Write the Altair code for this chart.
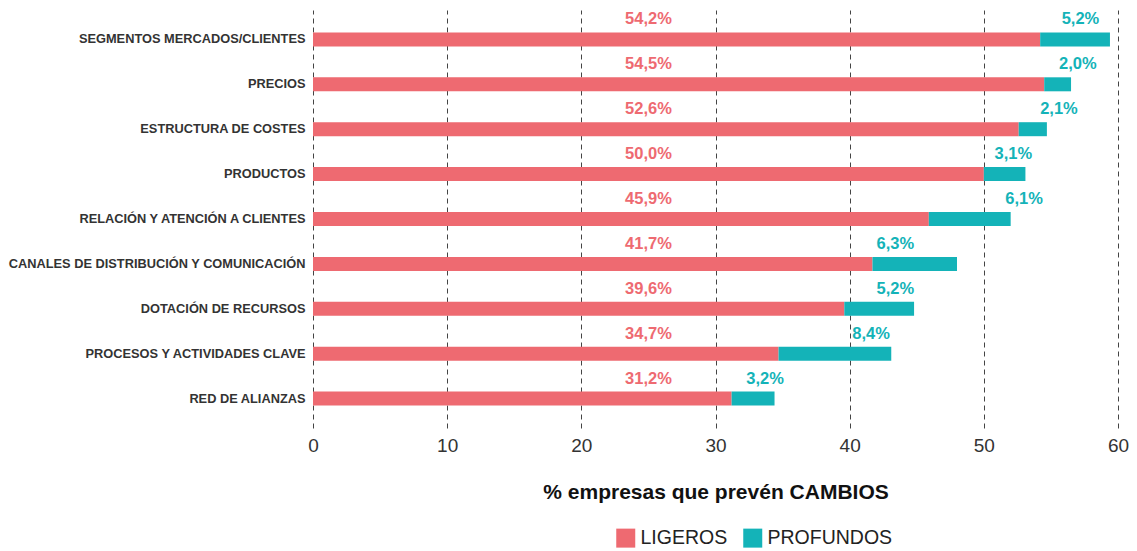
import altair as alt
import pandas as pd

categories = [
    "SEGMENTOS MERCADOS/CLIENTES",
    "PRECIOS",
    "ESTRUCTURA DE COSTES",
    "PRODUCTOS",
    "RELACIÓN Y ATENCIÓN A CLIENTES",
    "CANALES DE DISTRIBUCIÓN Y COMUNICACIÓN",
    "DOTACIÓN DE RECURSOS",
    "PROCESOS Y ACTIVIDADES CLAVE",
    "RED DE ALIANZAS",
]
ligeros = [54.2, 54.5, 52.6, 50.0, 45.9, 41.7, 39.6, 34.7, 31.2]
profundos = [5.2, 2.0, 2.1, 3.1, 6.1, 6.3, 5.2, 8.4, 3.2]
# label anchor positions (in % units)
ligeros_label_at = [25.0] * 9
profundos_label_at = [57.2, 57.0, 55.6, 52.2, 53.0, 43.4, 43.4, 41.6, 33.7]
series = ["LIGEROS", "PROFUNDOS"]
colors = ["#EE6A71", "#14B3B8"]
x_ticks = [0, 10, 20, 30, 40, 50, 60]

FONT = "Liberation Sans"


def fmt(v):
    return f"{v:.1f}".replace(".", ",") + "%"


rows = []
labels = []
for i, c in enumerate(categories):
    rows.append({"category": c, "serie": series[0], "value": ligeros[i], "ord": 0})
    rows.append({"category": c, "serie": series[1], "value": profundos[i], "ord": 1})
    labels.append({"category": c, "serie": series[0], "value": ligeros_label_at[i], "txt": fmt(ligeros[i])})
    labels.append({"category": c, "serie": series[1], "value": profundos_label_at[i], "txt": fmt(profundos[i])})
bars_df = pd.DataFrame(rows)
labels_df = pd.DataFrame(labels)

color_scale = alt.Scale(domain=series, range=colors)

y_enc = alt.Y(
    "category:N",
    sort=categories,
    scale=alt.Scale(paddingInner=0, paddingOuter=0.155),
    axis=alt.Axis(
        title=None,
        labelFont=FONT,
        labelFontWeight="bold",
        labelFontSize=12.8,
        labelColor="#333333",
        labelLimit=500,
        ticks=False,
        domain=False,
        grid=False,
        labelPadding=8,
    ),
)

bars = alt.Chart(bars_df).mark_bar(size=14).encode(
    y=y_enc,
    x=alt.X(
        "value:Q",
        stack="zero",
        scale=alt.Scale(domain=[0, 60], nice=False),
        axis=alt.Axis(
            values=x_ticks,
            grid=True,
            gridDash=[5, 4],
            gridColor="#444444",
            gridWidth=1,
            domain=False,
            ticks=False,
            labelFlush=False,
            labelFont=FONT,
            labelFontSize=19,
            labelColor="#333333",
            labelPadding=8,
            title="% empresas que prevén CAMBIOS",
            titleFont=FONT,
            titleFontSize=21,
            titleFontWeight="bold",
            titleColor="#111111",
            titlePadding=26,
        ),
    ),
    color=alt.Color(
        "serie:N",
        scale=color_scale,
        legend=alt.Legend(
            title=None,
            orient="none",
            legendX=303,
            legendY=518,
            direction="horizontal",
            symbolType="square",
            symbolSize=361,
            symbolStrokeWidth=0,
            symbolOpacity=1,
            labelFont=FONT,
            labelFontSize=19.5,
            labelColor="#222222",
            labelOffset=5,
            columnPadding=15,
        ),
    ),
    order=alt.Order("ord:Q"),
)

texts = alt.Chart(labels_df).mark_text(
    font=FONT, fontWeight="bold", fontSize=16.5, dy=-20, baseline="middle", align="center"
).encode(
    y=alt.Y("category:N", sort=categories),
    x=alt.X("value:Q", stack=None),
    text="txt:N",
    color=alt.Color("serie:N", scale=color_scale, legend=None),
)

chart = (
    alt.layer(bars, texts)
    .properties(
        width=805,
        height=418,
        autosize=alt.AutoSizeParams(type="none"),
        padding={"top": 2, "left": 305, "right": 11, "bottom": 121},
    )
    .configure_view(stroke=None)
)

chart.save("out.html", embed_options={"renderer": "svg", "actions": False})
